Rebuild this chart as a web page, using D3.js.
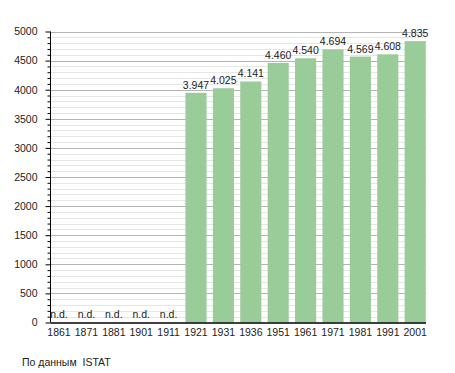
<!DOCTYPE html>
<html>
<head>
<meta charset="utf-8">
<script src="https://cdn.jsdelivr.net/npm/d3@7"></script>
<style>
  body { margin: 0; background: #fff; }
  svg { display: block; font-family: "Liberation Sans", Arial, sans-serif; }
</style>
</head>
<body>
<svg id="chart" width="455" height="373"></svg>
<script>
// data
const years = ["1861", "1871", "1881", "1901", "1911", "1921", "1931", "1936", "1951", "1961", "1971", "1981", "1991", "2001"];
const population = [null, null, null, null, null, 3947, 4025, 4141, 4460, 4540, 4694, 4569, 4608, 4835];
const valueLabels = ["n.d.", "n.d.", "n.d.", "n.d.", "n.d.", "3.947", "4.025", "4.141", "4.460", "4.540", "4.694", "4.569", "4.608", "4.835"];
const yTicks = [0, 500, 1000, 1500, 2000, 2500, 3000, 3500, 4000, 4500, 5000];
const sourceText = "По данным  ISTAT";

const svg = d3.select("#chart");

const axisX = 50.5, gridRight = 426;

const x = d3.scaleBand()
    .domain(years)
    .range([45.3, 428.9])
    .paddingInner(0.23)
    .paddingOuter(0.115);

const y = d3.scaleLinear().domain([0, 5000]).range([322.5, 31.5]);

// grid lines, minor every 100
const minor = d3.range(100, 5001, 100).filter(v => v % 500 !== 0);
svg.append("g").selectAll("line")
    .data(minor)
    .enter().append("line")
    .attr("x1", axisX).attr("x2", gridRight)
    .attr("y1", d => Math.round(y(d)) + 0.5).attr("y2", d => Math.round(y(d)) + 0.5)
    .attr("stroke", "#e6e6e6");

svg.append("g").selectAll("line")
    .data(yTicks.filter(d => d > 0))
    .enter().append("line")
    .attr("x1", axisX).attr("x2", gridRight)
    .attr("y1", d => Math.round(y(d)) + 0.5).attr("y2", d => Math.round(y(d)) + 0.5)
    .attr("stroke", "#b4b4b4");

// bars
svg.append("g").selectAll("rect")
    .data(years.map((yr, i) => ({yr, v: population[i]})).filter(d => d.v != null))
    .enter().append("rect")
    .attr("x", d => x(d.yr))
    .attr("width", x.bandwidth())
    .attr("y", d => y(d.v))
    .attr("height", d => y(0) - y(d.v))
    .attr("fill", "#99cc99");

// value labels
svg.append("g").selectAll("text")
    .data(years.map((yr, i) => ({yr, v: population[i], t: valueLabels[i]})))
    .enter().append("text")
    .attr("x", d => x(d.yr) + x.bandwidth() / 2)
    .attr("y", d => d.v == null ? 318 : y(d.v) - 4)
    .attr("text-anchor", "middle")
    .attr("font-size", "10.5px")
    .attr("fill", "#222")
    .text(d => d.t);

// y axis with minor ticks
const yAxisMinor = d3.axisLeft(y).tickValues(minor).tickSize(3).tickFormat("");
svg.append("g").attr("transform", `translate(${axisX},0)`).call(yAxisMinor)
    .call(g => g.select(".domain").remove());

const yAxis = d3.axisLeft(y).tickValues(yTicks).tickSize(5).tickPadding(8).tickFormat(d3.format("d"));
svg.append("g").attr("transform", `translate(${axisX},0)`).call(yAxis)
    .call(g => g.selectAll("text").attr("font-size", "10.5px").attr("fill", "#222").attr("font-family", null))
    .call(g => g.selectAll(".tick line").attr("stroke", "#000"))
    .call(g => g.select(".domain").attr("d", `M0,${y(5000)}V${y(0)}`));

// x axis
const xAxis = d3.axisBottom(x).tickSize(0).tickPadding(6);
svg.append("g").attr("transform", `translate(0,${y(0) + 0.5})`).call(xAxis)
    .call(g => g.selectAll("text").attr("font-size", "10.5px").attr("fill", "#222").attr("font-family", null))
    .call(g => g.select(".domain").attr("d", `M${axisX},0H${gridRight}`).attr("stroke-width", 1.5));

// source
svg.append("text")
    .attr("x", 22).attr("y", 366)
    .attr("font-size", "10.5px")
    .attr("fill", "#222")
    .style("white-space", "pre")
    .text(sourceText);
</script>
</body>
</html>
